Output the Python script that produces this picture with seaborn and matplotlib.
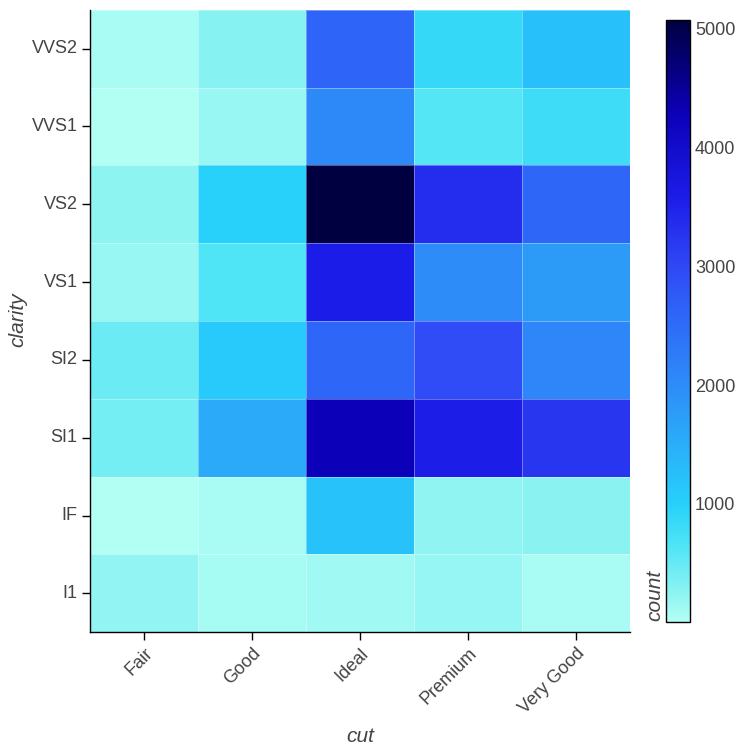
import numpy as np
import pandas as pd
import seaborn as sns
import matplotlib.pyplot as plt
from matplotlib.colors import LinearSegmentedColormap

cuts = ["Fair", "Good", "Ideal", "Premium", "Very Good"]
clarities_top_to_bottom = ["VVS2", "VVS1", "VS2", "VS1", "SI2", "SI1", "IF", "I1"]

fair = [69, 17, 261, 170, 466, 408, 9, 210]
good = [286, 186, 978, 648, 1081, 1560, 71, 96]
ideal = [2606, 2047, 5071, 3589, 2598, 4282, 1212, 146]
premium = [870, 616, 3357, 1989, 2949, 3575, 230, 205]
very_good = [1235, 789, 2591, 1775, 2100, 3240, 268, 84]

df = pd.DataFrame({"Fair": fair, "Good": good, "Ideal": ideal,
                   "Premium": premium, "Very Good": very_good},
                  index=clarities_top_to_bottom)[cuts]

sns.set_theme(style="white")
plt.rcParams['font.family'] = ['Liberation Sans', 'DejaVu Sans']

vmin, vmax = df.values.min(), df.values.max()
def n(v):
    return (v - vmin) / (vmax - vmin)
cmap = LinearSegmentedColormap.from_list("c", [
    (0.0, "#b2fff4"),
    (n(280), "#88f2f2"),
    (n(650), "#4ee4f6"),
    (n(1000), "#26d0fa"),
    (n(2000), "#2e8cf8"),
    (n(2600), "#2e66f8"),
    (n(3000), "#3048f6"),
    (n(3600), "#1c1ce8"),
    (n(4300), "#0c00b8"),
    (1.0, "#000040"),
])

fig = plt.figure(figsize=(7.5, 7.5), dpi=100)
ax = fig.add_axes([0.12, 0.157, 0.72, 0.83])
cax = fig.add_axes([0.888, 0.171, 0.032, 0.802])

sns.heatmap(df, ax=ax, cbar_ax=cax, cmap=cmap, vmin=vmin, vmax=vmax,
            linewidths=0.4, linecolor=(1, 1, 1, 0.35))

tc = "#444444"
fs = 13
ax.set_xlabel("")
ax.set_ylabel("")
fig.text(0.48, 1 - 737 / 750, "cut", ha="center", va="center",
         fontsize=15, style="italic", color=tc)
fig.text(18 / 750, 1 - 320 / 750, "clarity", ha="center", va="center",
         rotation=90, fontsize=15, style="italic", color=tc)
ax.set_xticklabels(cuts, rotation=45, ha="right", rotation_mode="anchor",
                   fontsize=fs, color=tc)
ax.set_yticklabels(clarities_top_to_bottom, rotation=0, fontsize=fs, color=tc)
ax.tick_params(axis="both", which="major", length=6, width=1, color="black",
               bottom=True, left=True, direction="out", pad=3)
for s in ["left", "bottom"]:
    ax.spines[s].set_visible(True)
    ax.spines[s].set_color("black")
    ax.spines[s].set_linewidth(1)
for s in ["top", "right"]:
    ax.spines[s].set_visible(False)

cbar = ax.collections[0].colorbar
cbar.set_ticks([1000, 2000, 3000, 4000, 5000])
cbar.ax.tick_params(labelsize=fs, labelcolor=tc, length=5, width=1,
                    color="black", direction="in", right=True)
cbar.outline.set_visible(True)
cbar.outline.set_edgecolor("black")
cbar.outline.set_linewidth(1)
fig.text(0.873, 0.172, "count", rotation=90, ha="center", va="bottom",
         fontsize=15, style="italic", color=tc)

fig.savefig("out.png", dpi=100)
